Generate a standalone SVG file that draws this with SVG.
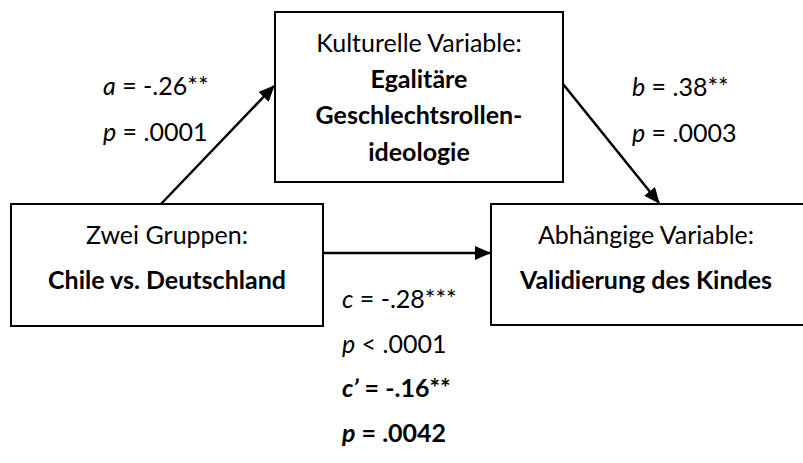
<svg xmlns="http://www.w3.org/2000/svg" width="803" height="463" viewBox="0 0 803 463">
<defs>
<style>
.box{fill:#fff;stroke:#000;stroke-width:2}
.t{font-family:Lato,"Liberation Sans",sans-serif;font-size:25px;fill:#000}
.c{text-anchor:middle}
.b{font-weight:bold}
.i{font-style:italic}
.ln{stroke:#000;stroke-width:2.5;fill:none}
</style>
<marker id="ah" markerWidth="16" markerHeight="14" refX="15" refY="7" orient="auto" markerUnits="userSpaceOnUse" viewBox="0 0 16 14">
<path d="M0,0 L16,7 L0,14 Z" fill="#000"/>
</marker>
</defs>
<rect width="803" height="463" fill="#fff"/>
<g id="connectors">
<path class="ln" d="M161,204 L274,86" marker-end="url(#ah)"/>
<path class="ln" d="M563,84 L659,203" marker-end="url(#ah)"/>
<path class="ln" d="M323,253 L490,253" marker-end="url(#ah)"/>
</g>
<g id="mediator">
<rect class="box" x="275" y="12" width="288" height="170"/>
<text class="t c" x="419" y="52">Kulturelle Variable:</text>
<text class="t c b" x="419" y="88">Egalitäre</text>
<text class="t c b" x="419" y="124">Geschlechtsrollen-</text>
<text class="t c b" x="419" y="161">ideologie</text>
</g>
<g id="predictor">
<rect class="box" x="11" y="204" width="312" height="122"/>
<text class="t c" x="167" y="244">Zwei Gruppen:</text>
<text class="t c b" x="167" y="289">Chile vs. Deutschland</text>
</g>
<g id="outcome">
<rect class="box" x="491" y="204" width="320" height="121"/>
<text class="t c" x="646" y="244">Abhängige Variable:</text>
<text class="t c b" x="646" y="289">Validierung des Kindes</text>
</g>
<g id="labels">
<text class="t" x="103" y="95"><tspan class="i">a</tspan> = -.26**</text>
<text class="t" x="103" y="141"><tspan class="i">p</tspan> = .0001</text>
<text class="t" x="632" y="96"><tspan class="i">b</tspan> = .38**</text>
<text class="t" x="632" y="142"><tspan class="i">p</tspan> = .0003</text>
<text class="t" x="342" y="308"><tspan class="i">c</tspan> = -.28***</text>
<text class="t" x="342" y="353"><tspan class="i">p</tspan> &lt; .0001</text>
<text class="t b" x="342" y="397"><tspan class="i">c’</tspan> = -.16**</text>
<text class="t b" x="342" y="442"><tspan class="i">p</tspan> = .0042</text>
</g>
</svg>
